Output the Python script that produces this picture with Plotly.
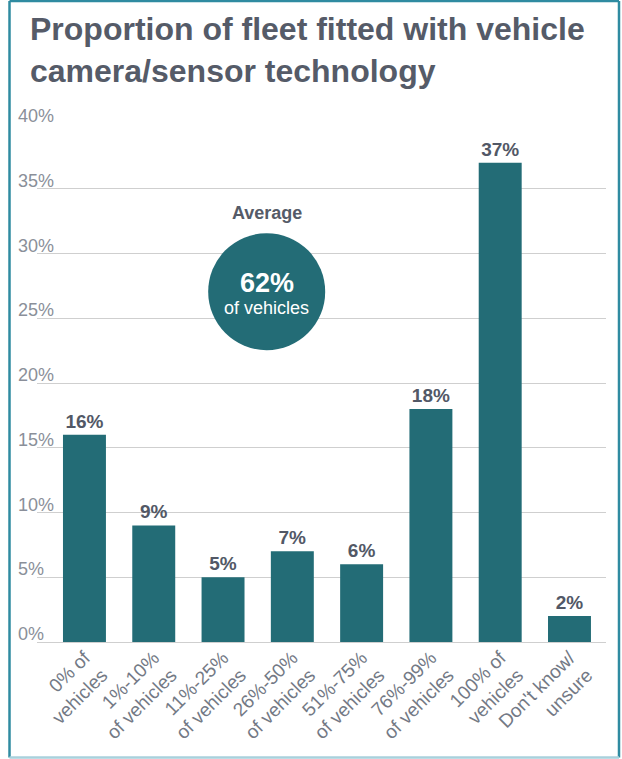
import plotly.graph_objects as go

categories = ["0% of<br>vehicles", "1%-10%<br>of vehicles", "11%-25%<br>of vehicles",
              "26%-50%<br>of vehicles", "51%-75%<br>of vehicles", "76%-99%<br>of vehicles",
              "100% of<br>vehicles", "Don't know/<br>unsure"]
values = [16, 9, 5, 7, 6, 18, 37, 2]
y_ticks = [0, 5, 10, 15, 20, 25, 30, 35, 40]
y_tick_labels = ["0%", "5%", "10%", "15%", "20%", "25%", "30%", "35%", "40%"]
average_value = "62%"

TEAL = "#236c76"
FRAME = "#2f8ba1"
FONT = "Liberation Sans, Arial, Helvetica, sans-serif"

# plot area in pixels: x 37..606, y 124..642
def px_x(p):
    return (p - 37) / 569

def px_y(p):
    return (642 - p) / 518

fig = go.Figure()
fig.add_trace(go.Bar(
    x=list(range(len(categories))), y=values,
    marker=dict(color=TEAL, line=dict(width=0)),
    text=[f"<b>{v}%</b>" for v in values], textposition="outside",
    textfont=dict(family=FONT, size=19, color="#525866"),
    cliponaxis=False, width=0.62,
))

# y labels sit above the gridlines, left aligned
for v, lab in zip(y_ticks, y_tick_labels):
    fig.add_annotation(x=px_x(16), xref="paper", y=v, yref="y", text=lab,
                       showarrow=False, xanchor="left", yanchor="bottom",
                       font=dict(family=FONT, size=18, color="#8a8f99"), yshift=-4)

# average bubble
fig.add_shape(type="circle", xref="x", yref="y", xsizemode="pixel", ysizemode="pixel",
              xanchor=2.63, yanchor=27.05, x0=-58.5, x1=58.5, y0=-58.5, y1=58.5,
              fillcolor=TEAL, line=dict(width=0), layer="above")
fig.add_annotation(x=2.63, y=33.1, text="<b>Average</b>", showarrow=False,
                   font=dict(family=FONT, size=18, color="#555b68"))
fig.add_annotation(x=2.63, y=27.7, text=f"<b>{average_value}</b>", showarrow=False,
                   font=dict(family=FONT, size=27, color="white"))
fig.add_annotation(x=2.63, y=25.8, text="of vehicles", showarrow=False,
                   font=dict(family=FONT, size=18, color="white"))

# title
fig.add_annotation(x=px_x(28), xref="paper", yref="paper", y=px_y(9),
                   xanchor="left", yanchor="top", align="left", showarrow=False,
                   text="<b>Proportion of fleet fitted with vehicle<br>camera/sensor technology</b>",
                   font=dict(family=FONT, size=32, color="#555b68"))

# outer frame
for x0, y0, x1, y1, col in [(9.5, 1, 9.5, 757.5, FRAME), (9.5, 1, 619, 1, FRAME),
                            (619, 1, 619, 757.5, FRAME), (9.5, 757.5, 619, 757.5, "#a9d1dc")]:
    fig.add_shape(type="line", xref="paper", yref="paper",
                  x0=px_x(x0), y0=px_y(y0), x1=px_x(x1), y1=px_y(y1),
                  line=dict(color=col, width=2.5), layer="below")

fig.update_layout(
    width=622, height=759,
    margin=dict(l=37, r=16, t=124, b=117),
    paper_bgcolor="white", plot_bgcolor="white",
    showlegend=False,
    bargap=0.38,
    xaxis=dict(tickmode="array", tickvals=list(range(len(categories))), ticktext=categories,
               tickangle=-45, range=[-0.685, 7.527], showgrid=False, zeroline=False,
               showline=False, ticks="", automargin=False,
               tickfont=dict(family=FONT, size=19, color="#737985")),
    yaxis=dict(range=[0, 40], tickvals=y_ticks, showticklabels=False, showgrid=True,
               gridcolor="#cfcfcf", gridwidth=1, zeroline=True, zerolinecolor="#cfcfcf",
               zerolinewidth=1, showline=False, fixedrange=True, automargin=False),
)

fig.write_html("out.html", config={"displayModeBar": False},
               post_script="document.body.style.margin='0';document.body.style.overflow='hidden';")
